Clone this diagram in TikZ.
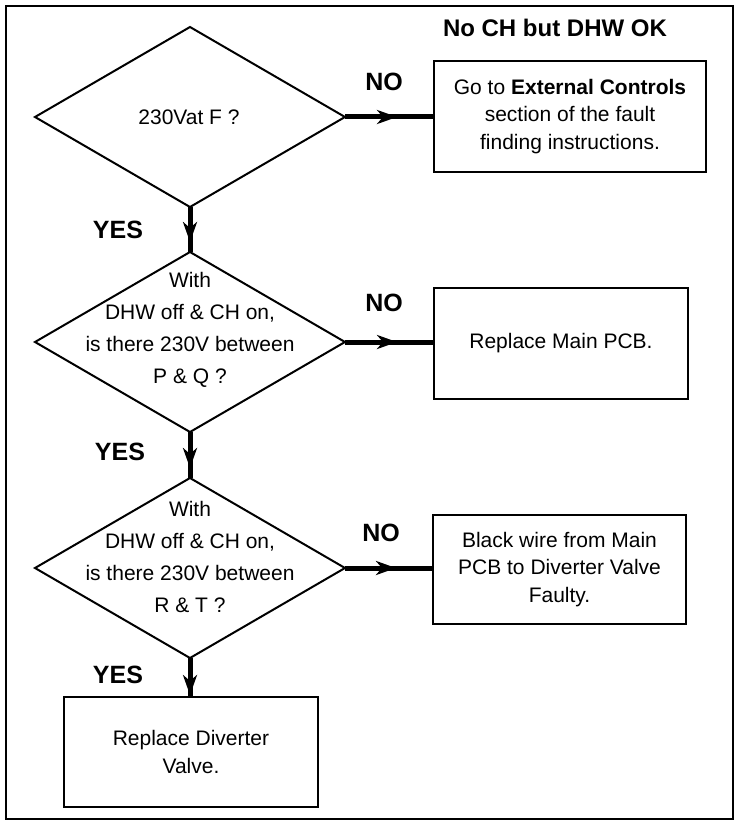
\documentclass[tikz,border=0pt]{standalone}
\usepackage{fontspec}
\setmainfont{Liberation Sans}
\usetikzlibrary{shapes.geometric,arrows.meta,decorations.markings}
\begin{document}
\begin{tikzpicture}[x=1pt,y=-1pt,
  diam/.style={shape=diamond, draw, line width=2pt, minimum width=310pt, minimum height=180pt, inner sep=0pt, outer sep=0pt},
  dtext/.style={align=center, font=\fontsize{21}{32}\selectfont, inner sep=0pt},
  box/.style={draw, line width=2pt, align=center, font=\fontsize{21}{27.5}\selectfont, inner sep=0pt, outer sep=0pt},
  lab/.style={font=\fontsize{25}{30}\selectfont\bfseries, inner sep=0pt},
  conn/.style={line width=5pt, postaction={decorate}, decoration={markings, mark=at position #1 with {\arrow{Stealth[length=20pt,width=14pt,inset=6pt]}}}},
  conn/.default=-10pt
]
\useasboundingbox (0,0) rectangle (738,824);
\draw[line width=2pt] (6,6) rectangle (733,819);

\node[font=\fontsize{24}{28}\selectfont\bfseries, inner sep=0pt] (title) at (555,28) {No CH but DHW OK};

\node[diam] (d1) at (190,117) {};
\node[dtext] (t1) at (189,117) {230Vat F ?};
\node[diam] (d2) at (190,342) {};
\node[dtext] (t2) at (190,330) {With\\DHW off \& CH on,\\is there 230V between\\P \& Q ?};
\node[diam] (d3) at (190,568) {};
\node[dtext] (t3) at (190,556.5) {With\\DHW off \& CH on,\\is there 230V between\\R \& T ?};

\node[box, minimum width=272pt, minimum height=111pt] (b1) at (570,116.5) {Go to \textbf{External Controls}\\section of the fault\\finding instructions.};
\node[box, minimum width=254pt, minimum height=111pt] (b2) at (561,343.5) {Replace Main PCB.};
\node[box, minimum width=253pt, minimum height=109pt] (b3) at (559.5,569.5) {Black wire from Main\\PCB to Diverter Valve\\Faulty.};
\node[box, minimum width=254pt, minimum height=110pt] (b4) at (191,752) {Replace Diverter\\Valve.};

\node[lab] (no1) at (384,82) {NO};
\node[lab] (no2) at (384,303) {NO};
\node[lab] (no3) at (381,533) {NO};
\node[lab] (yes1) at (118,230) {YES};
\node[lab] (yes2) at (120,452) {YES};
\node[lab] (yes3) at (118,675) {YES};

\draw[conn=-37pt] (d1.east) -- (d1.east -| b1.west);
\draw[conn=-37pt] (d2.east) -- (d2.east -| b2.west);
\draw[conn=-37pt] (d3.east) -- (d3.east -| b3.west);
\draw[conn=-10pt] (d1.south) -- (d2.north);
\draw[conn=-10pt] (d2.south) -- (d3.north);
\draw[conn=-2pt] (d3.south) -- (d3.south |- b4.north);
\end{tikzpicture}
\end{document}
